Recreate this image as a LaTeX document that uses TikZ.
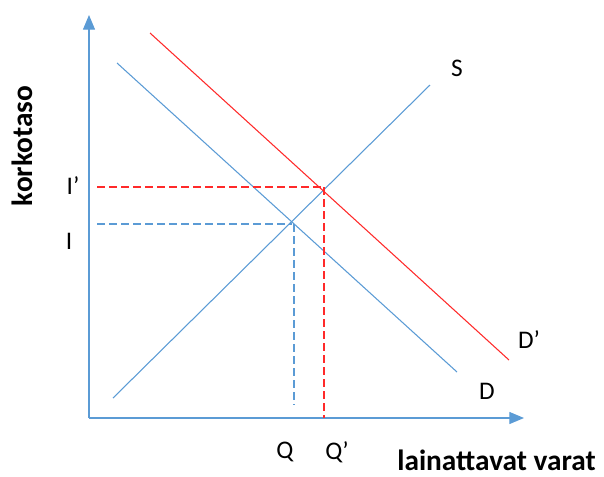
\documentclass[tikz,border=0pt]{standalone}
\usepackage{fontspec}
\setmainfont{Carlito}
\definecolor{ekblue}{HTML}{5B9BD5}
\definecolor{ekred}{HTML}{FF2A2A}
\usetikzlibrary{arrows.meta}

\begin{document}
\begin{tikzpicture}[x=0.75pt,y=-0.75pt,
  axis/.style={ekblue,line width=0.9pt,-{Triangle[length=11pt,width=9pt]}},
  curve/.style={line width=0.8pt},
  guide/.style={line width=0.8pt,dash pattern=on 6pt off 3pt},
  lbl/.style={font=\fontsize{19}{21}\selectfont,inner sep=0pt},
  axlbl/.style={font=\fontsize{22}{24}\selectfont\bfseries,inner sep=0pt}]
  \useasboundingbox (0,0) rectangle (604,476);
  % axes
  \coordinate (O) at (89,418);
  \coordinate (ytop) at (89,15);
  \coordinate (xend) at (524,418);
  \draw[axis] (O) -- (ytop);
  \draw[axis] (O) -- (xend);
  % supply and demand
  \coordinate (S0) at (113,398); \coordinate (S1) at (430,85);
  \coordinate (D0) at (117,63);  \coordinate (D1) at (457,372);
  \coordinate (E0) at (150,33);  \coordinate (E1) at (509,360);
  \draw[curve,ekblue] (S0) -- (S1);
  \draw[curve,ekblue] (D0) -- (D1);
  \draw[curve,ekred] (E0) -- (E1);
  % equilibria
  \coordinate (eq) at (292,224);
  \coordinate (eqn) at (324,187);
  \coordinate (iy) at (97,224);   \coordinate (qx) at (294,405);
  \coordinate (iny) at (97,187);  \coordinate (qnx) at (324,418);
  \draw[guide,ekblue] (iy) -- (eq);
  \draw[guide,ekblue] (eq -| qx) -- (qx);
  \draw[guide,ekred] (iny) -- (eqn);
  \draw[guide,ekred] (eqn) -- (qnx);
  % labels
  \node[lbl] (lS) at (457,68) {S};
  \node[lbl] (lD) at (487,391) {D};
  \node[lbl] (lDn) at (529,340) {D’};
  \node[lbl] (lI) at (69,241) {I};
  \node[lbl] (lIn) at (73,186) {I’};
  \node[lbl] (lQ) at (285,452) {Q};
  \node[lbl] (lQn) at (337,452) {Q’};
  \node[axlbl,rotate=90] (ylab) at (22,146) {korkotaso};
  \node[axlbl,anchor=east] (xlab) at (596,460) {lainattavat varat};
\end{tikzpicture}
\end{document}
